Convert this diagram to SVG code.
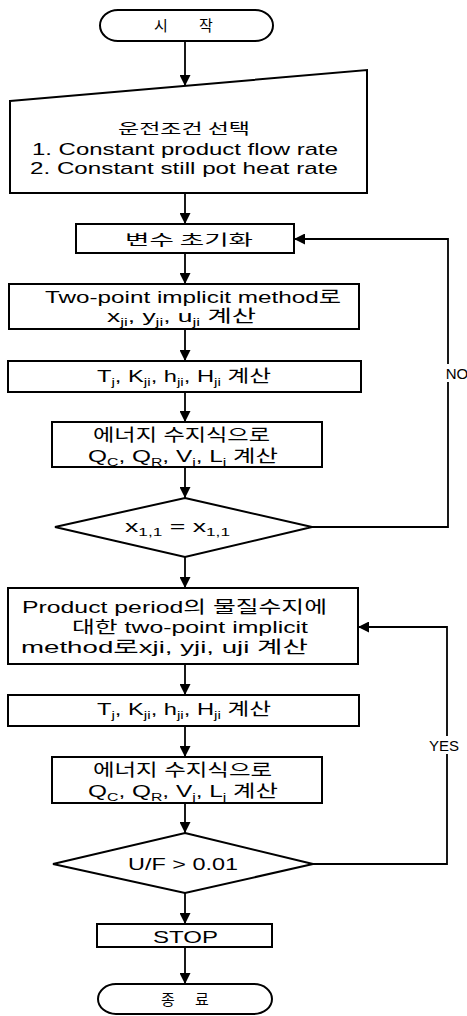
<svg xmlns="http://www.w3.org/2000/svg" width="467" height="1016" viewBox="0 0 467 1016">
<style>
.s{fill:#fff;stroke:#000;stroke-width:2}
.c{fill:none;stroke:#000;stroke-width:1.8}
text{font-family:"Liberation Sans","Noto Sans CJK KR",sans-serif;font-size:17px;fill:#000}
.k{font-family:"Noto Sans CJK KR","Liberation Sans",sans-serif;font-size:15px}
.b{font-size:11px}
.lbl{font-size:15px;text-anchor:middle}
</style>
<defs>
<marker id="ah" viewBox="0 0 10 10" refX="10" refY="5" markerWidth="11" markerHeight="11" markerUnits="userSpaceOnUse" orient="auto">
<path d="M0,0 L10,5 L0,10 z" fill="#000"/>
</marker>
</defs>
<rect width="467" height="1016" fill="#fff"/>
<g id="connectors">
<line class="c" x1="185" y1="41" x2="185" y2="86" marker-end="url(#ah)"/>
<line class="c" x1="185" y1="193" x2="185" y2="224" marker-end="url(#ah)"/>
<line class="c" x1="185" y1="253" x2="185" y2="284" marker-end="url(#ah)"/>
<line class="c" x1="185" y1="329" x2="185" y2="361" marker-end="url(#ah)"/>
<line class="c" x1="185" y1="392" x2="185" y2="422" marker-end="url(#ah)"/>
<line class="c" x1="185" y1="467" x2="185" y2="498" marker-end="url(#ah)"/>
<line class="c" x1="185" y1="557" x2="185" y2="588" marker-end="url(#ah)"/>
<line class="c" x1="185" y1="664" x2="185" y2="695" marker-end="url(#ah)"/>
<line class="c" x1="185" y1="726" x2="185" y2="757" marker-end="url(#ah)"/>
<line class="c" x1="185" y1="803" x2="185" y2="833" marker-end="url(#ah)"/>
<line class="c" x1="185" y1="893" x2="185" y2="924" marker-end="url(#ah)"/>
<line class="c" x1="185" y1="947" x2="185" y2="984" marker-end="url(#ah)"/>
<polyline class="c" points="312,527 448,527 448,239 294,239" marker-end="url(#ah)"/>
<polyline class="c" points="313,864 447,864 447,627 358,627" marker-end="url(#ah)"/>
<rect x="438" y="364" width="29" height="18" fill="#fff"/>
<text class="lbl" x="457" y="379">NO</text>
<rect x="428" y="736" width="32" height="18" fill="#fff"/>
<text class="lbl" x="444" y="751">YES</text>
</g>
<g id="start">
<rect class="s" x="100" y="10" width="173" height="31" rx="18" ry="15.5"/>
<text class="k" text-anchor="middle" y="31"><tspan x="161">시</tspan><tspan x="206">작</tspan></text>
</g>
<g id="input">
<polygon class="s" points="10,101 367,70 367,193 10,193"/>
<text class="k" x="118" y="134" textLength="132" lengthAdjust="spacingAndGlyphs">운전조건 선택</text>
<text x="32" y="155" textLength="306" lengthAdjust="spacingAndGlyphs">1. Constant product flow rate</text>
<text x="30" y="174" textLength="308" lengthAdjust="spacingAndGlyphs">2. Constant still pot heat rate</text>
</g>
<g id="init">
<rect class="s" x="76" y="224" width="218" height="29"/>
<text class="k" x="125" y="245" textLength="128" lengthAdjust="spacingAndGlyphs">변수 초기화</text>
</g>
<g id="twopoint1">
<rect class="s" x="9" y="284" width="350" height="45"/>
<text x="45" y="303" textLength="296" lengthAdjust="spacingAndGlyphs">Two-point implicit method로</text>
<text x="107" y="322" textLength="149" lengthAdjust="spacingAndGlyphs">x<tspan class="b" dy="4">ji</tspan><tspan dy="-4">, y</tspan><tspan class="b" dy="4">ji</tspan><tspan dy="-4">, u</tspan><tspan class="b" dy="4">ji</tspan><tspan dy="-4"> 계산</tspan></text>
</g>
<g id="calc1">
<rect class="s" x="8" y="361" width="353" height="31"/>
<text x="97" y="382" textLength="174" lengthAdjust="spacingAndGlyphs">T<tspan class="b" dy="4">j</tspan><tspan dy="-4">, K</tspan><tspan class="b" dy="4">ji</tspan><tspan dy="-4">, h</tspan><tspan class="b" dy="4">ji</tspan><tspan dy="-4">, H</tspan><tspan class="b" dy="4">ji</tspan><tspan dy="-4"> 계산</tspan></text>
</g>
<g id="energy1">
<rect class="s" x="52" y="422" width="270" height="45"/>
<text x="93" y="441" textLength="177" lengthAdjust="spacingAndGlyphs">에너지 수지식으로</text>
<text x="88" y="462" textLength="190" lengthAdjust="spacingAndGlyphs">Q<tspan class="b" dy="4">C</tspan><tspan dy="-4">, Q</tspan><tspan class="b" dy="4">R</tspan><tspan dy="-4">, V</tspan><tspan class="b" dy="4">j</tspan><tspan dy="-4">, L</tspan><tspan class="b" dy="4">j</tspan><tspan dy="-4"> 계산</tspan></text>
</g>
<g id="decision1">
<polygon class="s" points="185,498 312,527 185,557 55,527"/>
<text x="125" y="532" textLength="105" lengthAdjust="spacingAndGlyphs">x<tspan class="b" dy="4">1,1</tspan><tspan dy="-4"> = x</tspan><tspan class="b" dy="4">1,1</tspan></text>
</g>
<g id="twopoint2">
<rect class="s" x="8" y="588" width="350" height="76"/>
<text x="22" y="613" textLength="305" lengthAdjust="spacingAndGlyphs">Product period의 물질수지에</text>
<text x="72" y="633" textLength="236" lengthAdjust="spacingAndGlyphs">대한 two-point implicit</text>
<text x="21" y="653" textLength="287" lengthAdjust="spacingAndGlyphs">method로xji, yji, uji 계산</text>
</g>
<g id="calc2">
<rect class="s" x="8" y="695" width="351" height="31"/>
<text x="97" y="715" textLength="174" lengthAdjust="spacingAndGlyphs">T<tspan class="b" dy="4">j</tspan><tspan dy="-4">, K</tspan><tspan class="b" dy="4">ji</tspan><tspan dy="-4">, h</tspan><tspan class="b" dy="4">ji</tspan><tspan dy="-4">, H</tspan><tspan class="b" dy="4">ji</tspan><tspan dy="-4"> 계산</tspan></text>
</g>
<g id="energy2">
<rect class="s" x="52" y="757" width="270" height="46"/>
<text x="93" y="776" textLength="179" lengthAdjust="spacingAndGlyphs">에너지 수지식으로</text>
<text x="88" y="797" textLength="190" lengthAdjust="spacingAndGlyphs">Q<tspan class="b" dy="4">C</tspan><tspan dy="-4">, Q</tspan><tspan class="b" dy="4">R</tspan><tspan dy="-4">, V</tspan><tspan class="b" dy="4">j</tspan><tspan dy="-4">, L</tspan><tspan class="b" dy="4">j</tspan><tspan dy="-4"> 계산</tspan></text>
</g>
<g id="decision2">
<polygon class="s" points="185,833 313,864 185,893 53,864"/>
<text x="128" y="870" textLength="110" lengthAdjust="spacingAndGlyphs">U/F &gt; 0.01</text>
</g>
<g id="stop">
<rect class="s" x="97" y="924" width="175" height="23"/>
<text x="153" y="943" textLength="65" lengthAdjust="spacingAndGlyphs">STOP</text>
</g>
<g id="end">
<rect class="s" x="98" y="984" width="174" height="30" rx="18" ry="15"/>
<text class="k" text-anchor="middle" y="1005"><tspan x="168">종</tspan><tspan x="202">료</tspan></text>
</g>
</svg>
